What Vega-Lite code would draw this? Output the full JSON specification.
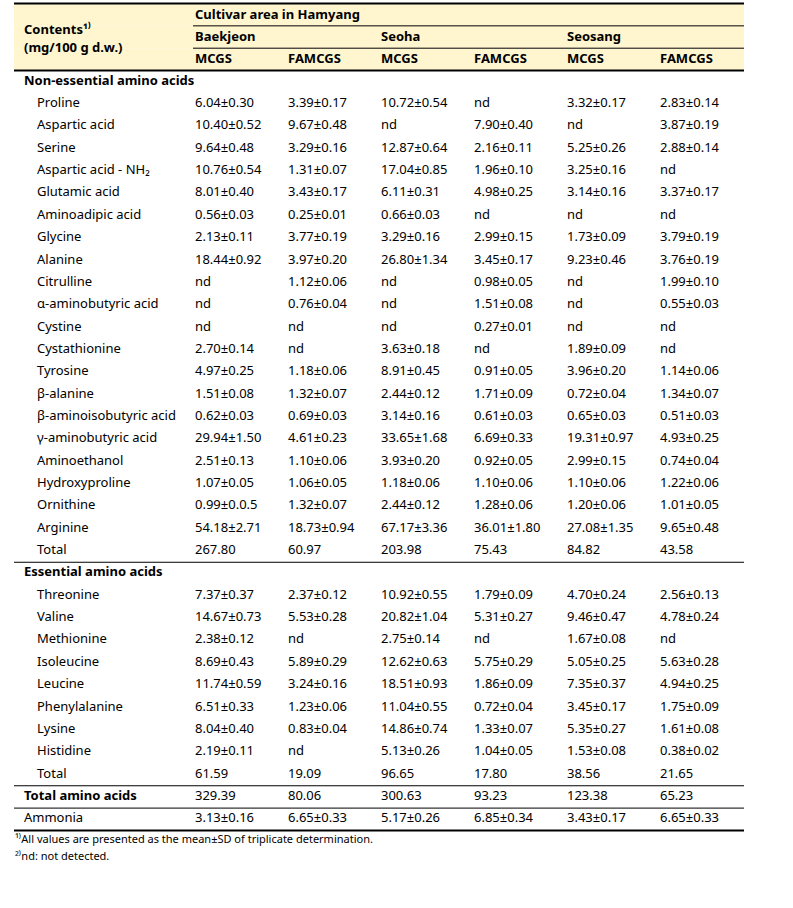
{
  "$schema": "https://vega.github.io/schema/vega-lite/v6.json",
  "autosize": {"type": "fit", "contains": "padding"},
  "width": 793,
  "height": 908,
  "padding": {"left": 13, "right": 48, "top": 0, "bottom": 0},
  "background": "white",
  "config": {"view": {"stroke": null}, "text": {"font": "Noto Sans", "fontSize": 13, "color": "#000000"}},
  "datasets": {
    "rows": [
      {"r": "r03", "label": "Non-essential amino acids", "kind": "section"},
      {"r": "r04", "label": "Proline", "kind": "item", "B_MCGS": "6.04±0.30", "B_FAMCGS": "3.39±0.17", "S_MCGS": "10.72±0.54", "S_FAMCGS": "nd", "G_MCGS": "3.32±0.17", "G_FAMCGS": "2.83±0.14"},
      {"r": "r05", "label": "Aspartic acid", "kind": "item", "B_MCGS": "10.40±0.52", "B_FAMCGS": "9.67±0.48", "S_MCGS": "nd", "S_FAMCGS": "7.90±0.40", "G_MCGS": "nd", "G_FAMCGS": "3.87±0.19"},
      {"r": "r06", "label": "Serine", "kind": "item", "B_MCGS": "9.64±0.48", "B_FAMCGS": "3.29±0.16", "S_MCGS": "12.87±0.64", "S_FAMCGS": "2.16±0.11", "G_MCGS": "5.25±0.26", "G_FAMCGS": "2.88±0.14"},
      {"r": "r07", "label": "Aspartic acid - NH₂", "kind": "item", "B_MCGS": "10.76±0.54", "B_FAMCGS": "1.31±0.07", "S_MCGS": "17.04±0.85", "S_FAMCGS": "1.96±0.10", "G_MCGS": "3.25±0.16", "G_FAMCGS": "nd"},
      {"r": "r08", "label": "Glutamic acid", "kind": "item", "B_MCGS": "8.01±0.40", "B_FAMCGS": "3.43±0.17", "S_MCGS": "6.11±0.31", "S_FAMCGS": "4.98±0.25", "G_MCGS": "3.14±0.16", "G_FAMCGS": "3.37±0.17"},
      {"r": "r09", "label": "Aminoadipic acid", "kind": "item", "B_MCGS": "0.56±0.03", "B_FAMCGS": "0.25±0.01", "S_MCGS": "0.66±0.03", "S_FAMCGS": "nd", "G_MCGS": "nd", "G_FAMCGS": "nd"},
      {"r": "r10", "label": "Glycine", "kind": "item", "B_MCGS": "2.13±0.11", "B_FAMCGS": "3.77±0.19", "S_MCGS": "3.29±0.16", "S_FAMCGS": "2.99±0.15", "G_MCGS": "1.73±0.09", "G_FAMCGS": "3.79±0.19"},
      {"r": "r11", "label": "Alanine", "kind": "item", "B_MCGS": "18.44±0.92", "B_FAMCGS": "3.97±0.20", "S_MCGS": "26.80±1.34", "S_FAMCGS": "3.45±0.17", "G_MCGS": "9.23±0.46", "G_FAMCGS": "3.76±0.19"},
      {"r": "r12", "label": "Citrulline", "kind": "item", "B_MCGS": "nd", "B_FAMCGS": "1.12±0.06", "S_MCGS": "nd", "S_FAMCGS": "0.98±0.05", "G_MCGS": "nd", "G_FAMCGS": "1.99±0.10"},
      {"r": "r13", "label": "α-aminobutyric acid", "kind": "item", "B_MCGS": "nd", "B_FAMCGS": "0.76±0.04", "S_MCGS": "nd", "S_FAMCGS": "1.51±0.08", "G_MCGS": "nd", "G_FAMCGS": "0.55±0.03"},
      {"r": "r14", "label": "Cystine", "kind": "item", "B_MCGS": "nd", "B_FAMCGS": "nd", "S_MCGS": "nd", "S_FAMCGS": "0.27±0.01", "G_MCGS": "nd", "G_FAMCGS": "nd"},
      {"r": "r15", "label": "Cystathionine", "kind": "item", "B_MCGS": "2.70±0.14", "B_FAMCGS": "nd", "S_MCGS": "3.63±0.18", "S_FAMCGS": "nd", "G_MCGS": "1.89±0.09", "G_FAMCGS": "nd"},
      {"r": "r16", "label": "Tyrosine", "kind": "item", "B_MCGS": "4.97±0.25", "B_FAMCGS": "1.18±0.06", "S_MCGS": "8.91±0.45", "S_FAMCGS": "0.91±0.05", "G_MCGS": "3.96±0.20", "G_FAMCGS": "1.14±0.06"},
      {"r": "r17", "label": "β-alanine", "kind": "item", "B_MCGS": "1.51±0.08", "B_FAMCGS": "1.32±0.07", "S_MCGS": "2.44±0.12", "S_FAMCGS": "1.71±0.09", "G_MCGS": "0.72±0.04", "G_FAMCGS": "1.34±0.07"},
      {"r": "r18", "label": "β-aminoisobutyric acid", "kind": "item", "B_MCGS": "0.62±0.03", "B_FAMCGS": "0.69±0.03", "S_MCGS": "3.14±0.16", "S_FAMCGS": "0.61±0.03", "G_MCGS": "0.65±0.03", "G_FAMCGS": "0.51±0.03"},
      {"r": "r19", "label": "γ-aminobutyric acid", "kind": "item", "B_MCGS": "29.94±1.50", "B_FAMCGS": "4.61±0.23", "S_MCGS": "33.65±1.68", "S_FAMCGS": "6.69±0.33", "G_MCGS": "19.31±0.97", "G_FAMCGS": "4.93±0.25"},
      {"r": "r20", "label": "Aminoethanol", "kind": "item", "B_MCGS": "2.51±0.13", "B_FAMCGS": "1.10±0.06", "S_MCGS": "3.93±0.20", "S_FAMCGS": "0.92±0.05", "G_MCGS": "2.99±0.15", "G_FAMCGS": "0.74±0.04"},
      {"r": "r21", "label": "Hydroxyproline", "kind": "item", "B_MCGS": "1.07±0.05", "B_FAMCGS": "1.06±0.05", "S_MCGS": "1.18±0.06", "S_FAMCGS": "1.10±0.06", "G_MCGS": "1.10±0.06", "G_FAMCGS": "1.22±0.06"},
      {"r": "r22", "label": "Ornithine", "kind": "item", "B_MCGS": "0.99±0.0.5", "B_FAMCGS": "1.32±0.07", "S_MCGS": "2.44±0.12", "S_FAMCGS": "1.28±0.06", "G_MCGS": "1.20±0.06", "G_FAMCGS": "1.01±0.05"},
      {"r": "r23", "label": "Arginine", "kind": "item", "B_MCGS": "54.18±2.71", "B_FAMCGS": "18.73±0.94", "S_MCGS": "67.17±3.36", "S_FAMCGS": "36.01±1.80", "G_MCGS": "27.08±1.35", "G_FAMCGS": "9.65±0.48"},
      {"r": "r24", "label": "Total", "kind": "item", "B_MCGS": "267.80", "B_FAMCGS": "60.97", "S_MCGS": "203.98", "S_FAMCGS": "75.43", "G_MCGS": "84.82", "G_FAMCGS": "43.58"},
      {"r": "r25", "label": "Essential amino acids", "kind": "section"},
      {"r": "r26", "label": "Threonine", "kind": "item", "B_MCGS": "7.37±0.37", "B_FAMCGS": "2.37±0.12", "S_MCGS": "10.92±0.55", "S_FAMCGS": "1.79±0.09", "G_MCGS": "4.70±0.24", "G_FAMCGS": "2.56±0.13"},
      {"r": "r27", "label": "Valine", "kind": "item", "B_MCGS": "14.67±0.73", "B_FAMCGS": "5.53±0.28", "S_MCGS": "20.82±1.04", "S_FAMCGS": "5.31±0.27", "G_MCGS": "9.46±0.47", "G_FAMCGS": "4.78±0.24"},
      {"r": "r28", "label": "Methionine", "kind": "item", "B_MCGS": "2.38±0.12", "B_FAMCGS": "nd", "S_MCGS": "2.75±0.14", "S_FAMCGS": "nd", "G_MCGS": "1.67±0.08", "G_FAMCGS": "nd"},
      {"r": "r29", "label": "Isoleucine", "kind": "item", "B_MCGS": "8.69±0.43", "B_FAMCGS": "5.89±0.29", "S_MCGS": "12.62±0.63", "S_FAMCGS": "5.75±0.29", "G_MCGS": "5.05±0.25", "G_FAMCGS": "5.63±0.28"},
      {"r": "r30", "label": "Leucine", "kind": "item", "B_MCGS": "11.74±0.59", "B_FAMCGS": "3.24±0.16", "S_MCGS": "18.51±0.93", "S_FAMCGS": "1.86±0.09", "G_MCGS": "7.35±0.37", "G_FAMCGS": "4.94±0.25"},
      {"r": "r31", "label": "Phenylalanine", "kind": "item", "B_MCGS": "6.51±0.33", "B_FAMCGS": "1.23±0.06", "S_MCGS": "11.04±0.55", "S_FAMCGS": "0.72±0.04", "G_MCGS": "3.45±0.17", "G_FAMCGS": "1.75±0.09"},
      {"r": "r32", "label": "Lysine", "kind": "item", "B_MCGS": "8.04±0.40", "B_FAMCGS": "0.83±0.04", "S_MCGS": "14.86±0.74", "S_FAMCGS": "1.33±0.07", "G_MCGS": "5.35±0.27", "G_FAMCGS": "1.61±0.08"},
      {"r": "r33", "label": "Histidine", "kind": "item", "B_MCGS": "2.19±0.11", "B_FAMCGS": "nd", "S_MCGS": "5.13±0.26", "S_FAMCGS": "1.04±0.05", "G_MCGS": "1.53±0.08", "G_FAMCGS": "0.38±0.02"},
      {"r": "r34", "label": "Total", "kind": "item", "B_MCGS": "61.59", "B_FAMCGS": "19.09", "S_MCGS": "96.65", "S_FAMCGS": "17.80", "G_MCGS": "38.56", "G_FAMCGS": "21.65"},
      {"r": "r35", "label": "Total amino acids", "kind": "grand", "B_MCGS": "329.39", "B_FAMCGS": "80.06", "S_MCGS": "300.63", "S_FAMCGS": "93.23", "G_MCGS": "123.38", "G_FAMCGS": "65.23"},
      {"r": "r36", "label": "Ammonia", "kind": "plain", "B_MCGS": "3.13±0.16", "B_FAMCGS": "6.65±0.33", "S_MCGS": "5.17±0.26", "S_FAMCGS": "6.85±0.34", "G_MCGS": "3.43±0.17", "G_FAMCGS": "6.65±0.33"}
    ],
    "header": [
      {"r": "r00", "c": "B_MCGS", "t": "Cultivar area in Hamyang"},
      {"r": "r01", "c": "B_MCGS", "t": "Baekjeon"},
      {"r": "r01", "c": "S_MCGS", "t": "Seoha"},
      {"r": "r01", "c": "G_MCGS", "t": "Seosang"},
      {"r": "r02", "c": "B_MCGS", "t": "MCGS"},
      {"r": "r02", "c": "B_FAMCGS", "t": "FAMCGS"},
      {"r": "r02", "c": "S_MCGS", "t": "MCGS"},
      {"r": "r02", "c": "S_FAMCGS", "t": "FAMCGS"},
      {"r": "r02", "c": "G_MCGS", "t": "MCGS"},
      {"r": "r02", "c": "G_FAMCGS", "t": "FAMCGS"}
    ]
  },
  "layer": [
    {
      "data": {"values": [{"r": "r00"}, {"r": "r01"}, {"r": "r02"}]},
      "mark": {"type": "rect", "color": "#FFF5CF"},
      "encoding": {
        "y": {"field": "r", "type": "nominal", "axis": null, "scale": {"type": "band", "domain": ["r00","r01","r02","r03","r04","r05","r06","r07","r08","r09","r10","r11","r12","r13","r14","r15","r16","r17","r18","r19","r20","r21","r22","r23","r24","r25","r26","r27","r28","r29","r30","r31","r32","r33","r34","r35","r36","f1"], "range": [3.5, 852.8], "paddingInner": 0, "paddingOuter": 0}}
      }
    },
    {
      "data": {"values": [{"r": "r00"}, {"r": "r03"}, {"r": "f1"}]},
      "mark": {"type": "rule", "color": "#000000", "strokeWidth": 2},
      "encoding": {
        "y": {"field": "r", "type": "nominal", "bandPosition": 0, "axis": null}
      }
    },
    {
      "data": {"values": [{"r": "r25"}, {"r": "r35"}, {"r": "r36"}]},
      "mark": {"type": "rule", "color": "#000000", "strokeWidth": 1},
      "encoding": {
        "y": {"field": "r", "type": "nominal", "bandPosition": 0, "axis": null}
      }
    },
    {
      "data": {"values": [{"r": "r01"}, {"r": "r02"}]},
      "mark": {"type": "rule", "color": "#000000", "strokeWidth": 1},
      "encoding": {
        "y": {"field": "r", "type": "nominal", "bandPosition": 0, "axis": null},
        "x": {"datum": "B_MCGS", "type": "nominal", "bandPosition": 0, "axis": null, "scale": {"type": "band", "domain": ["_a","_b","B_MCGS","B_FAMCGS","S_MCGS","S_FAMCGS","G_MCGS","G_FAMCGS"], "range": [-7, 737], "paddingInner": 0, "paddingOuter": 0}},
        "x2": {"value": "width"}
      }
    },
    {
      "data": {"name": "header"},
      "mark": {"type": "text", "align": "left", "baseline": "middle", "fontWeight": "bold", "dx": 2, "dy": 0},
      "encoding": {
        "y": {"field": "r", "type": "nominal", "axis": null},
        "x": {"field": "c", "type": "nominal", "bandPosition": 0, "axis": null},
        "text": {"field": "t", "type": "nominal"}
      }
    },
    {
      "data": {"values": [{"r": "r01", "t": "Contents¹⁾\n(mg/100 g d.w.)"}]},
      "mark": {"type": "text", "align": "left", "baseline": "middle", "fontWeight": "bold", "dx": 17, "dy": -7, "lineBreak": "\n", "lineHeight": 18},
      "encoding": {
        "y": {"field": "r", "type": "nominal", "axis": null},
        "x": {"datum": "_a", "type": "nominal", "bandPosition": 0, "axis": null},
        "text": {"field": "t", "type": "nominal"}
      }
    },
    {
      "data": {"name": "rows"},
      "transform": [{"filter": "datum.kind === 'section' || datum.kind === 'grand'"}],
      "mark": {"type": "text", "align": "left", "baseline": "middle", "fontWeight": "bold", "dx": 17, "dy": -1},
      "encoding": {
        "y": {"field": "r", "type": "nominal", "axis": null},
        "x": {"datum": "_a", "type": "nominal", "bandPosition": 0, "axis": null},
        "text": {"field": "label", "type": "nominal"}
      }
    },
    {
      "data": {"name": "rows"},
      "transform": [{"filter": "datum.kind === 'plain'"}],
      "mark": {"type": "text", "align": "left", "baseline": "middle", "dx": 17, "dy": -1},
      "encoding": {
        "y": {"field": "r", "type": "nominal", "axis": null},
        "x": {"datum": "_a", "type": "nominal", "bandPosition": 0, "axis": null},
        "text": {"field": "label", "type": "nominal"}
      }
    },
    {
      "data": {"name": "rows"},
      "transform": [{"filter": "datum.kind === 'item'"}],
      "mark": {"type": "text", "align": "left", "baseline": "middle", "dx": 30, "dy": -1},
      "encoding": {
        "y": {"field": "r", "type": "nominal", "axis": null},
        "x": {"datum": "_a", "type": "nominal", "bandPosition": 0, "axis": null},
        "text": {"field": "label", "type": "nominal"}
      }
    },
    {
      "data": {"name": "rows"},
      "transform": [
        {"fold": ["B_MCGS", "B_FAMCGS", "S_MCGS", "S_FAMCGS", "G_MCGS", "G_FAMCGS"], "as": ["key", "value"]},
        {"filter": "isValid(datum.value)"}
      ],
      "mark": {"type": "text", "align": "left", "baseline": "middle", "dx": 2, "dy": -1},
      "encoding": {
        "y": {"field": "r", "type": "nominal", "axis": null},
        "x": {"field": "key", "type": "nominal", "bandPosition": 0, "axis": null},
        "text": {"field": "value", "type": "nominal"}
      }
    },
    {
      "data": {"values": [{"r": "f1", "t": "¹⁾All values are presented as the mean±SD of triplicate determination.\n²⁾nd: not detected."}]},
      "mark": {"type": "text", "align": "left", "baseline": "top", "fontSize": 11, "dx": 8, "dy": 4, "lineBreak": "\n", "lineHeight": 17},
      "encoding": {
        "y": {"field": "r", "type": "nominal", "bandPosition": 0, "axis": null},
        "x": {"datum": "_a", "type": "nominal", "bandPosition": 0, "axis": null},
        "text": {"field": "t", "type": "nominal"}
      }
    }
  ]
}
